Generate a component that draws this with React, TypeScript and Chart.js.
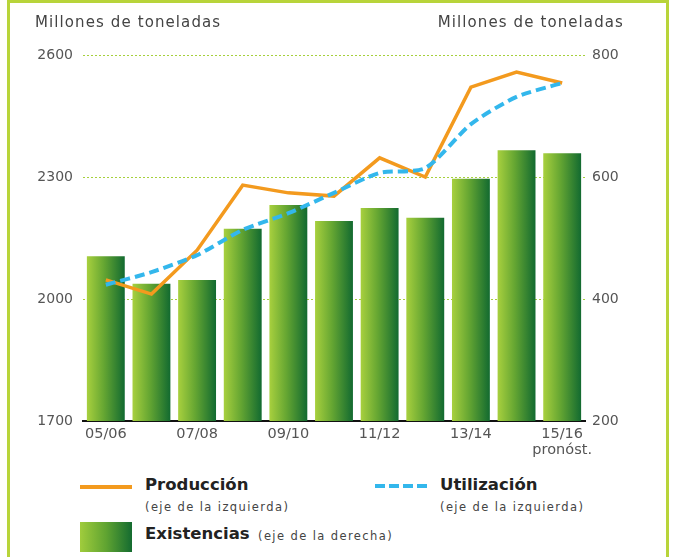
import React, { useEffect, useRef } from "react";
import { Chart, registerables } from "chart.js";

Chart.register(...registerables);

const categories = ["05/06","06/07","07/08","08/09","09/10","10/11","11/12","12/13","13/14","14/15","15/16"];
const shownLabels: (string | string[])[] = ["05/06","","07/08","","09/10","","11/12","","13/14","",["15/16","pronóst."]];
const existencias = [470, 425, 431, 515, 554, 528, 549, 533, 597, 644, 639];
const produccion = [2047, 2012, 2120, 2280, 2261, 2253, 2347, 2300, 2521, 2558, 2531];
const utilizacion = [2035, 2066, 2108, 2170, 2211, 2261, 2310, 2322, 2430, 2497, 2531];

const leftMin = 1700, leftMax = 2600, leftStep = 300;
const rightMin = 200, rightMax = 800, rightStep = 200;

const ORANGE = "#f39a1e";
const BLUE = "#33b7ec";
const BAR_PCT = 0.83;
const FONT = "'DejaVu Sans', sans-serif";

export default function App() {
  const ref = useRef<HTMLCanvasElement | null>(null);
  useEffect(() => {
    if (!ref.current) return;
    const chart = new Chart(ref.current, {
      type: "bar",
      data: {
        labels: categories,
        datasets: [
          {
            type: "line",
            label: "Utilización",
            data: utilizacion,
            yAxisID: "y",
            borderColor: BLUE,
            borderWidth: 4,
            borderDash: [10, 5],
            pointRadius: 0,
            tension: 0.25,
            fill: false,
            order: 0,
          } as any,
          {
            type: "line",
            label: "Producción",
            data: produccion,
            yAxisID: "y",
            borderColor: ORANGE,
            borderWidth: 3.5,
            pointRadius: 0,
            tension: 0,
            fill: false,
            order: 1,
          } as any,
          {
            type: "bar",
            label: "Existencias",
            data: existencias,
            yAxisID: "y1",
            order: 2,
            barPercentage: BAR_PCT,
            categoryPercentage: 1,
            borderWidth: 0,
            backgroundColor: (ctx: any) => {
              const c = ctx.chart;
              const xs = c.scales && c.scales.x;
              if (!xs || !xs.width || ctx.type !== "data") return "#5a9e2e";
              const cx = xs.getPixelForValue(ctx.dataIndex);
              const w = (xs.width / categories.length) * BAR_PCT;
              const g = c.ctx.createLinearGradient(cx - w / 2, 0, cx + w / 2, 0);
              g.addColorStop(0, "#a8d03e");
              g.addColorStop(0.45, "#65a632");
              g.addColorStop(1, "#126a30");
              return g;
            },
          } as any,
        ],
      },
      options: {
        animation: false,
        responsive: false,
        maintainAspectRatio: false,
        layout: { padding: { top: 55, left: 0, right: 0, bottom: 0 } },
        plugins: { legend: { display: false }, tooltip: { enabled: false }, title: { display: false } },
        scales: {
          x: {
            offset: true,
            grid: { display: false, drawTicks: false },
            border: { display: true, color: "#111", width: 2 },
            ticks: {
              autoSkip: false,
              maxRotation: 0,
              padding: 5,
              color: "#555",
              font: { family: FONT, size: 14.5, lineHeight: 1.1 },
              callback: (_v: any, i: number) => shownLabels[i],
            },
            afterFit: (s: any) => { s.height = 49; },
          },
          y: {
            position: "left",
            min: leftMin,
            max: leftMax,
            grid: { color: "#a6d03c", lineWidth: 1, drawTicks: false },
            border: { display: false, dash: [2, 2] },
            ticks: {
              stepSize: leftStep,
              padding: 10,
              color: "#555",
              font: { family: FONT, size: 14 },
              callback: (v: any) => String(v),
            },
            afterFit: (s: any) => { s.width = 83; },
          },
          y1: {
            position: "right",
            min: rightMin,
            max: rightMax,
            grid: { display: false, drawTicks: false },
            border: { display: false },
            ticks: {
              stepSize: rightStep,
              padding: 7,
              color: "#555",
              font: { family: FONT, size: 14 },
              callback: (v: any) => String(v),
            },
            afterFit: (s: any) => { s.width = 91; },
          },
        },
      } as any,
    });
    return () => chart.destroy();
  }, []);

  const small: React.CSSProperties = { fontFamily: FONT, fontSize: 11.5, letterSpacing: 1.4, color: "#444", whiteSpace: "nowrap", lineHeight: "14px" };
  const big: React.CSSProperties = { fontFamily: FONT, fontWeight: 700, fontSize: 16.5, color: "#222", whiteSpace: "nowrap", lineHeight: "20px" };
  const title: React.CSSProperties = { fontFamily: FONT, fontSize: 15, letterSpacing: 1.1, color: "#444", whiteSpace: "nowrap", lineHeight: "18px" };

  return (
    <div style={{ position: "absolute", left: 0, top: 0, width: 676, height: 557, background: "#fff", overflow: "hidden" }}>
      <div style={{ position: "absolute", left: 7, top: 0, width: 656, height: 600, border: "3px solid #b8d43a" }} />
      <canvas ref={ref} width={676} height={470} style={{ position: "absolute", left: 0, top: 0, width: 676, height: 470 }} />
      <div style={{ ...title, position: "absolute", left: 35, top: 13 }}>Millones de toneladas</div>
      <div style={{ ...title, position: "absolute", right: 52, top: 13 }}>Millones de toneladas</div>

      <div style={{ position: "absolute", left: 80, top: 485, width: 52, height: 4, background: ORANGE }} />
      <div style={{ ...big, position: "absolute", left: 145, top: 475 }}>Producción</div>
      <div style={{ ...small, position: "absolute", left: 145, top: 500 }}>(eje de la izquierda)</div>

      <div style={{ position: "absolute", left: 375, top: 484, width: 53, height: 4, background: `repeating-linear-gradient(90deg, ${BLUE} 0 10px, transparent 10px 14px)` }} />
      <div style={{ ...big, position: "absolute", left: 440, top: 475 }}>Utilización</div>
      <div style={{ ...small, position: "absolute", left: 440, top: 500 }}>(eje de la izquierda)</div>

      <div style={{ position: "absolute", left: 80, top: 522, width: 52, height: 30, background: "linear-gradient(90deg, #a0cc3c, #60a431 50%, #146b30)" }} />
      <div style={{ ...big, position: "absolute", left: 145, top: 524 }}>Existencias</div>
      <div style={{ ...small, position: "absolute", left: 258, top: 529 }}>(eje de la derecha)</div>
    </div>
  );
}
